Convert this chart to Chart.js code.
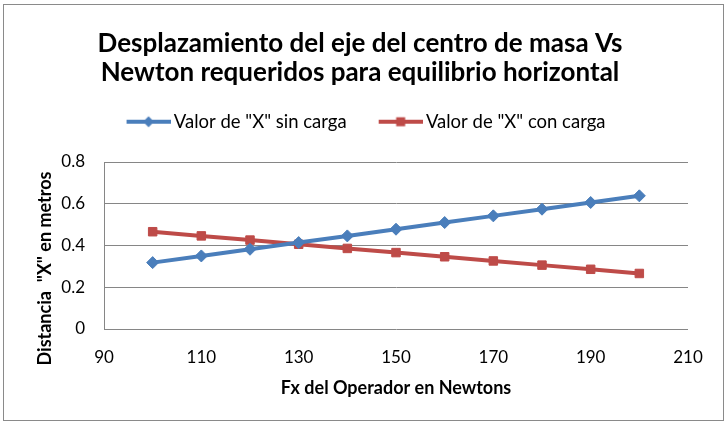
<!DOCTYPE html>
<html>
<head>
<meta charset="utf-8">
<script src="https://cdn.jsdelivr.net/npm/chart.js@4.4.1/dist/chart.umd.min.js"></script>
<style>
  html, body { margin: 0; padding: 0; background: #ffffff; }
  #c { display: block; }
</style>
</head>
<body>
<canvas id="c" width="728" height="426"></canvas>
<script>
// ---- data ----
const chartTitle = ['Desplazamiento del eje del centro de masa Vs', 'Newton requeridos para equilibrio horizontal'];
const seriesNames = ['Valor de "X" sin carga', 'Valor de "X" con carga'];
const forces = [100, 110, 120, 130, 140, 150, 160, 170, 180, 190, 200];
const sinCarga = [0.318, 0.350, 0.382, 0.414, 0.446, 0.478, 0.510, 0.542, 0.574, 0.606, 0.638];
const conCarga = [0.466, 0.446, 0.426, 0.406, 0.386, 0.366, 0.346, 0.326, 0.306, 0.286, 0.266];
const xAxisTitle = 'Fx del Operador en Newtons';
const yAxisTitle = 'Distancia  "X" en metros';
const xRange = [90, 210, 20];
const yRange = [0, 0.8, 0.2];

const BLUE = '#4A7EBB';
const RED = '#BE4B48';
const GRID = '#868686';
const FONT = 'Lato';

function makeIcon(color, style) {
  const cv = document.createElement('canvas');
  cv.width = 62; cv.height = 18;
  const g = cv.getContext('2d');
  g.strokeStyle = color; g.fillStyle = color; g.lineWidth = 4;
  g.beginPath(); g.moveTo(18, 9); g.lineTo(62, 9); g.stroke();
  const cx = 40, cy = 9;
  g.beginPath();
  if (style === 'diamond') {
    g.moveTo(cx - 5.5, cy); g.lineTo(cx, cy - 5.5); g.lineTo(cx + 5.5, cy); g.lineTo(cx, cy + 5.5); g.closePath();
  } else {
    g.rect(cx - 4.5, cy - 4.5, 9, 9);
  }
  g.fill();
  return cv;
}
const icons = [makeIcon(BLUE, 'diamond'), makeIcon(RED, 'square')];

const frame = {
  id: 'frame',
  beforeDraw(chart) {
    const ctx = chart.ctx;
    ctx.save();
    ctx.fillStyle = '#ffffff';
    ctx.fillRect(0, 0, chart.width, chart.height);
    ctx.strokeStyle = '#8a8a8a';
    ctx.lineWidth = 1;
    ctx.strokeRect(3.5, 4.5, 720, 416);
    ctx.restore();
  }
};

new Chart(document.getElementById('c'), {
  type: 'line',
  data: {
    datasets: [
      {
        label: seriesNames[0],
        data: forces.map((f, i) => ({ x: f, y: sinCarga[i] })),
        borderColor: BLUE, backgroundColor: BLUE,
        borderWidth: 4,
        pointStyle: 'rectRot', pointRadius: 6, pointBorderWidth: 1,
        pointBackgroundColor: BLUE, pointBorderColor: BLUE,
        tension: 0
      },
      {
        label: seriesNames[1],
        data: forces.map((f, i) => ({ x: f, y: conCarga[i] })),
        borderColor: RED, backgroundColor: RED,
        borderWidth: 4,
        pointStyle: 'rect', pointRadius: 6, pointBorderWidth: 1,
        pointBackgroundColor: RED, pointBorderColor: RED,
        tension: 0
      }
    ]
  },
  options: {
    responsive: false,
    animation: false,
    devicePixelRatio: 1,
    layout: { padding: { left: 0, right: 8, top: 0, bottom: 0 } },
    plugins: {
      title: {
        display: true,
        text: chartTitle,
        color: '#000000',
        font: { family: FONT, size: 26, weight: 'bold', lineHeight: '29px' },
        padding: { top: 29.5, bottom: 5 }
      },
      legend: {
        display: true,
        position: 'top',
        labels: {
          usePointStyle: true,
          pointStyleWidth: 50,
          boxHeight: 18.5,
          padding: 20,
          color: '#000000',
          font: { family: FONT, size: 18.5 },
          generateLabels(chart) {
            const items = Chart.defaults.plugins.legend.labels.generateLabels(chart);
            items.forEach((it, i) => { it.pointStyle = icons[i]; });
            return items;
          }
        }
      },
      subtitle: {
        display: true,
        text: '',
        weight: 500,
        font: { size: 1, lineHeight: '1px' },
        padding: { top: 0, bottom: 20 }
      },
      tooltip: { enabled: false }
    },
    scales: {
      x: {
        type: 'linear',
        min: xRange[0], max: xRange[1],
        ticks: { stepSize: xRange[2], color: '#000000', font: { family: FONT, size: 17 }, padding: 18.5 },
        grid: { display: false, drawTicks: false },
        border: { display: false },
        title: {
          display: true, text: xAxisTitle, color: '#000000',
          font: { family: FONT, size: 18, weight: 'bold' },
          padding: { top: 0, bottom: 27 }
        },
        afterFit(scale) { scale.height = 97; }
      },
      y: {
        type: 'linear',
        min: yRange[0], max: yRange[1],
        ticks: { stepSize: yRange[2], color: '#000000', font: { family: FONT, size: 17 }, padding: 19 },
        grid: { color: GRID, lineWidth: 1, drawTicks: false },
        border: { display: true, color: GRID, width: 1 },
        title: {
          display: true, text: yAxisTitle, color: '#000000',
          font: { family: FONT, size: 18, weight: 'bold' },
          padding: { top: 34, bottom: 0 }
        },
        afterFit(scale) {
          scale.width = 104;
          const proto = Object.getPrototypeOf(scale);
          scale.drawTitle = function () {
            this.ctx.save();
            this.ctx.translate(0, 23);
            proto.drawTitle.call(this);
            this.ctx.restore();
          };
        }
      },
      y2: {
        type: 'linear',
        position: 'right',
        display: true,
        ticks: { display: false },
        grid: { display: false, drawTicks: false },
        border: { display: false },
        afterFit(scale) { scale.width = 32; }
      }
    }
  },
  plugins: [frame]
});
</script>
</body>
</html>
